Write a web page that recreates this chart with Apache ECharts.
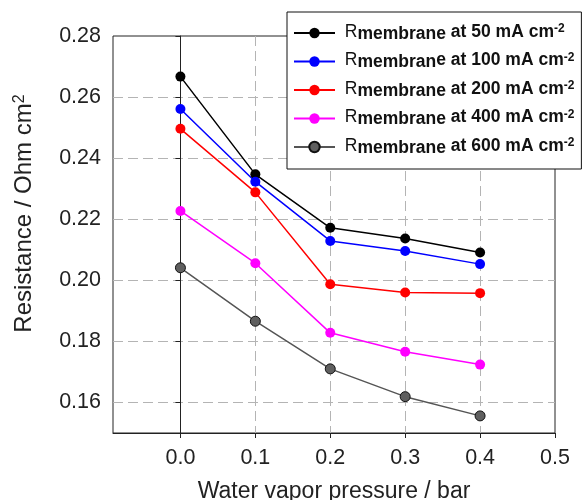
<!DOCTYPE html>
<html>
<head>
<meta charset="utf-8">
<script src="https://cdn.jsdelivr.net/npm/echarts@6/dist/echarts.min.js"></script>
<style>
  html, body { margin: 0; padding: 0; background: #fff; }
  #chart { width: 585px; height: 500px; }
</style>
</head>
<body>
<div id="chart"></div>
<script>
// water vapor pressure (bar)
const pressures = [0.0, 0.1, 0.2, 0.3, 0.4];
// membrane resistance (Ohm cm2) at each current density
const r50 = [0.2667, 0.2347, 0.2172, 0.2137, 0.2091];
const r100 = [0.2561, 0.2323, 0.2129, 0.2096, 0.2053];
const r200 = [0.2496, 0.2288, 0.1987, 0.1960, 0.1958];
const r400 = [0.2227, 0.2056, 0.1828, 0.1766, 0.1724];
const r600 = [0.2041, 0.1866, 0.1710, 0.1619, 0.1556];
const currents = ['50', '100', '200', '400', '600'];
// tick labels
const xTicks = [0.0, 0.1, 0.2, 0.3, 0.4, 0.5];
const yTicks = [0.16, 0.18, 0.20, 0.22, 0.24, 0.26, 0.28];

const colors = ['#000000', '#0000ff', '#ff0000', '#ff00ff', '#555555'];
const allData = [r50, r100, r200, r400, r600];

const chart = echarts.init(document.getElementById('chart'));

const seriesList = allData.map((vals, i) => ({
    name: 'R membrane at ' + currents[i] + ' mA cm-2',
    type: 'line',
    data: pressures.map((p, j) => [p, vals[j]]),
    symbol: 'circle',
    symbolSize: 10,
    lineStyle: { color: colors[i], width: 1.5 },
    itemStyle: i === 4
        ? { color: '#5f5f5f', borderColor: '#111', borderWidth: 1 }
        : { color: colors[i] }
}));

const font = "'Liberation Sans', Arial, sans-serif";
// legend text pieces: R, subscript, normal text, spacer, superscript
const legendRich = {
    g: { fontSize: 17.5, fontFamily: font, lineHeight: 20, verticalAlign: 'middle' },
    r: { fontSize: 17.5, fontFamily: font, color: '#111', lineHeight: 13, verticalAlign: 'top' },
    sub: { fontSize: 17.5, fontWeight: 'bold', fontFamily: font, color: '#111', lineHeight: 13, verticalAlign: 'bottom' },
    t: { fontSize: 17.5, fontWeight: 'bold', fontFamily: font, color: '#111', lineHeight: 15, verticalAlign: 'top' },
    sup: { fontSize: 12, fontWeight: 'bold', fontFamily: font, color: '#111', lineHeight: 4, verticalAlign: 'top' }
};

const option = {
    animation: false,
    grid: {
        left: 113, right: 30, top: 36, bottom: 67,
        outerBoundsMode: 'none',
        containLabel: false,
        show: true, borderColor: '#222', borderWidth: 1,
        backgroundColor: 'transparent'
    },
    xAxis: {
        type: 'value',
        min: -0.09,
        max: 0.5,
        name: 'Water vapor pressure / bar',
        nameLocation: 'middle',
        nameGap: 47,
        nameTextStyle: { fontSize: 23, color: '#222', fontFamily: font },
        axisLine: { show: true, lineStyle: { color: '#222', width: 1 } },
        axisTick: { show: true, length: 5, customValues: xTicks, lineStyle: { color: '#222' } },
        axisLabel: {
            customValues: xTicks, fontSize: 21.5, color: '#222', fontFamily: font, margin: 14,
            formatter: v => v.toFixed(1)
        },
        splitLine: {
            show: true, showMaxLine: false,
            lineStyle: { color: '#b4b4b4', type: [10, 5], width: 1 }
        }
    },
    yAxis: {
        type: 'value',
        min: 0.15,
        max: 0.28,
        name: 'Resistance / Ohm cm{sup|2}',
        nameLocation: 'middle',
        nameGap: 77,
        nameTextStyle: {
            fontSize: 24, color: '#222', fontFamily: font,
            padding: [0, 0, 0, 42],
            rich: {
                sup: { fontSize: 16, color: '#222', fontFamily: font, verticalAlign: 'top', lineHeight: 10 }
            }
        },
        axisLine: { show: true, lineStyle: { color: '#222', width: 1 } },
        axisTick: { show: true, length: 5, customValues: yTicks, lineStyle: { color: '#222' } },
        axisLabel: {
            customValues: yTicks, fontSize: 21.5, color: '#222', fontFamily: font, margin: 12,
            formatter: v => v.toFixed(2)
        },
        splitLine: {
            show: true, showMaxLine: false,
            lineStyle: { color: '#b4b4b4', type: [10, 5], width: 1 }
        }
    },
    legend: {
        orient: 'vertical',
        left: 287,
        top: 12,
        padding: [11, 7, 12, 6],
        itemWidth: 41,
        itemHeight: 13,
        itemGap: 8.5,
        backgroundColor: '#fff',
        borderColor: '#111',
        borderWidth: 1,
        borderRadius: 0,
        z: 10,
        formatter: name => {
            const cur = name.split(' ')[3];
            if (cur === '100') {
                return '{g| }{r|R}{sub|membran}{t|e}{g| }{t|at ' + cur + ' mA cm}{sup|-2}';
            }
            return '{g| }{r|R}{sub|membrane}{g| }{t|at ' + cur + ' mA cm}{sup|-2}';
        },
        textStyle: { fontFamily: font, color: '#111', rich: legendRich }
    },
    series: seriesList
};

chart.setOption(option);
</script>
</body>
</html>
